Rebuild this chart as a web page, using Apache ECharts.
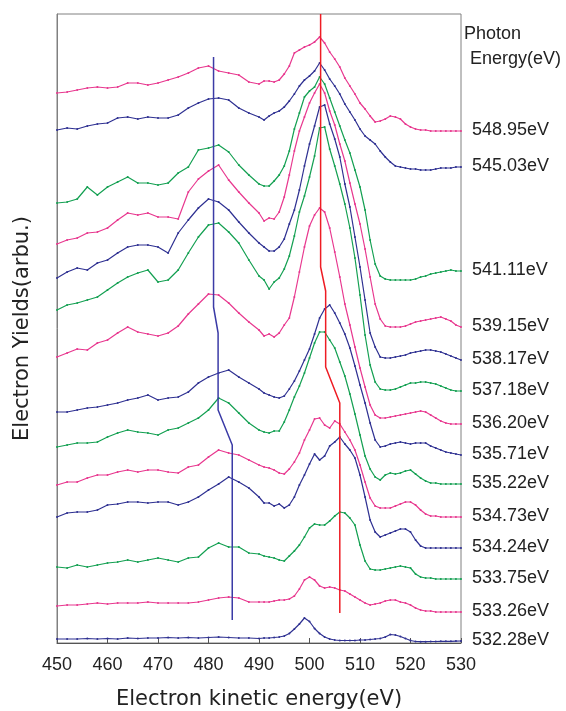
<!DOCTYPE html>
<html>
<head>
<meta charset="utf-8">
<script src="https://cdn.jsdelivr.net/npm/echarts@6/dist/echarts.min.js"></script>
<style>
html,body{margin:0;padding:0;background:#fff}
#chart{width:566px;height:711px}
</style>
</head>
<body>
<div id="chart"></div>
<script>
// kinetic energy grid (eV): 2 eV steps below 490, 1 eV steps above
var energy = [450,452,454,456,458,460,462,464,466,468,470,472,474,476,478,480,482,484,486,488,
    490,491,492,493,494,495,496,497,498,499,500,501,502,503,504,505,506,507,508,509,510,
    511,512,513,514,515,516,517,518,519,520,521,522,523,524,525,526,527,528,529,530];

var photon = ['548.95eV','545.03eV','541.11eV','539.15eV','538.17eV','537.18eV','536.20eV',
    '535.71eV','535.22eV','534.73eV','534.24eV','533.75eV','533.26eV','532.28eV'];

// electron yields, already offset for stacking (arb. u.)
var y54895 = [550,551,553,555,556,555,556,560,560,558,560,563,566,570,575,577,572,570,568,561,
    559,562,562,561,563,569,577,590,593,596,598,601,606,600,591,584,576,565,557,549,540,
    534,527,521,522,524,527,526,524,519,516,514,513,513,512,512,512,512,512,512,512];
var y54503 = [513,515,514,517,519,520,525,526,524,526,525,525,528,535,540,544,545,543,535,530,
    526,523,527,530,532,536,542,549,557,563,567,572,580,573,564,557,549,539,531,523,514,
    507,503,499,492,486,481,477,476,475,474,474,473,473,473,474,475,475,475,476,476];
var y54111 = [440,441,444,456,448,456,461,466,460,460,458,460,470,476,493,495,498,491,478,468,
    459,457,457,462,468,477,492,514,530,546,552,556,566,559,545,531,517,503,490,473,456,
    433,403,379,367,364,363,363,363,363,363,364,366,367,369,370,371,372,373,372,372];
var y53915 = [399,403,405,410,411,415,423,430,428,430,426,426,424,451,464,472,478,463,451,440,
    430,422,425,424,431,446,468,492,512,526,540,550,559,550,532,518,499,482,460,439,419,
    394,366,339,324,317,316,316,316,317,319,321,322,323,324,325,326,324,322,318,316];
var y53817 = [365,371,375,373,380,383,390,396,398,398,396,390,410,423,435,444,441,433,421,410,
    400,396,392,392,396,404,419,433,453,477,499,517,536,538,519,504,486,459,436,406,376,
    343,310,296,286,285,285,286,287,288,290,291,292,293,293,292,291,289,287,285,283];
var y53718 = [333,338,340,343,346,353,360,366,370,373,361,363,373,390,406,418,420,411,400,383,
    367,363,354,361,365,374,387,407,431,447,466,487,515,516,494,477,459,439,415,385,348,
    308,278,261,254,253,253,254,256,258,260,260,261,261,260,259,257,255,253,252,252];
var y53620 = [286,290,294,293,300,303,310,316,311,309,307,310,317,329,339,349,348,340,330,321,
    313,307,309,306,310,318,325,346,371,396,417,428,435,431,415,391,366,339,318,296,275,
    256,238,228,225,225,226,227,228,229,230,231,232,231,228,225,222,220,219,219,219];
var y53571 = [231,231,233,235,236,238,240,243,245,248,243,245,246,251,260,266,270,273,266,260,
    254,250,248,246,245,247,254,262,272,283,294,309,325,334,338,330,320,309,295,277,258,
    240,220,203,196,197,199,200,201,200,199,200,200,200,197,195,193,191,190,189,188];
var y53522 = [196,198,200,200,201,206,210,213,211,210,208,213,215,220,225,233,245,240,230,220,
    213,211,210,212,212,221,233,246,257,270,285,300,311,311,303,295,281,267,249,229,208,
    187,174,166,163,168,170,169,170,172,173,169,165,162,160,160,159,159,159,159,159];
var y53473 = [158,161,161,165,168,168,171,173,171,173,173,171,170,176,178,186,193,190,188,183,
    178,176,175,173,170,169,174,181,190,203,213,224,225,218,215,222,219,211,203,193,178,
    161,145,137,135,135,135,137,139,141,141,138,133,129,127,127,126,126,126,126,126];
var y53424 = [126,130,131,131,133,138,139,141,141,140,141,141,138,141,146,153,159,166,161,155,
    146,140,140,137,139,135,138,146,158,168,179,189,183,187,197,201,206,199,193,185,168,
    146,123,111,106,108,110,112,114,114,111,103,97,95,95,95,95,95,95,95,95];
var y53375 = [76,75,78,76,78,80,81,83,81,83,85,83,81,85,86,95,100,96,96,90,
    89,87,86,85,83,82,87,92,98,106,115,119,118,118,122,127,131,130,125,118,98,
    82,74,73,73,74,75,76,77,76,75,69,66,65,65,64,64,64,64,64,64];
var y53326 = [37,38,38,39,40,39,40,40,40,41,40,40,40,40,41,43,45,46,45,41,
    41,41,41,42,43,43,44,47,54,63,66,63,57,55,56,55,53,52,49,46,43,
    40,38,39,40,42,43,43,41,40,38,35,33,32,32,31,31,31,31,31,31];
var y53228 = [4,4,4,4.5,4,4.5,4,5,4.5,5,5,5.5,5,5.5,5,5.5,6,5.5,5,5,
    4.5,5,5,5.5,6,7,9.5,14,19,25,21.5,14.5,9.5,6,4,3,2.5,2.5,2.5,2.5,3,
    3,3.5,4,4.5,6,8.5,8,6.5,4.5,2.5,1.5,1.3,1.3,1.5,1.5,1.7,1.7,1.7,1.9,2];

// peak-shift guide lines [kinetic energy, yield]
var guideLow = [[481.0,586],[481.0,336],[481.9,310],[481.9,233],[484.7,198],[484.7,23]];
var guideHigh = [[502.2,629],[502.2,376],[503.2,352],[503.2,276],[506.0,240],[506.0,30]];

var spectra = [y54895,y54503,y54111,y53915,y53817,y53718,y53620,y53571,y53522,y53473,y53424,y53375,y53326,y53228];
var colors = ['#E8388F','#2F3192','#14A052'];
var font = 'Liberation Sans';

var series = spectra.map(function (vals, i) {
    var c = colors[i % 3];
    return {
        name: photon[i],
        type: 'line',
        data: vals.map(function (v, k) { return [energy[k], v]; }),
        symbol: 'circle',
        symbolSize: 2,
        lineStyle: { width: 1.2, color: c },
        itemStyle: { color: c },
        endLabel: {
            show: true,
            formatter: '{a}',
            distance: 11,
            offset: [0, -1],
            fontSize: 18,
            color: '#222',
            fontFamily: font
        },
        silent: true
    };
});

series.push({
    type: 'line', data: guideLow, symbol: 'none', silent: true,
    lineStyle: { width: 1.5, color: '#3B3BA6' }, z: 5
});
series.push({
    type: 'line', data: guideHigh, symbol: 'none', silent: true,
    lineStyle: { width: 1.5, color: '#EE1C24' }, z: 5
});

var option = {
    animation: false,
    grid: {
        left: 57, right: 105, top: 14, bottom: 68,
        outerBoundsMode: 'none',
        show: true, borderColor: '#808080', borderWidth: 1
    },
    xAxis: {
        type: 'value', min: 450, max: 530, interval: 10,
        name: 'Electron kinetic energy(eV)',
        nameLocation: 'middle', nameGap: 46,
        nameTextStyle: { fontSize: 21, color: '#222', fontFamily: 'DejaVu Sans' },
        axisLine: { lineStyle: { color: '#555' } },
        axisTick: { inside: true, length: 5, lineStyle: { color: '#555' } },
        axisLabel: { fontSize: 18, color: '#222', margin: 13, fontFamily: font },
        splitLine: { show: false }
    },
    yAxis: {
        type: 'value', min: 0, max: 629,
        name: 'Electron Yields(arbu.)',
        nameLocation: 'middle', nameGap: 24,
        nameTextStyle: { fontSize: 21, color: '#222', fontFamily: 'DejaVu Sans' },
        axisLine: { show: true, lineStyle: { color: '#808080' } },
        axisTick: { show: false },
        axisLabel: { show: false },
        splitLine: { show: false }
    },
    graphic: [
        { type: 'text', left: 464, top: 25, style: { text: 'Photon', font: '18px "Liberation Sans"', fill: '#222' } },
        { type: 'text', left: 470, top: 50, style: { text: 'Energy(eV)', font: '18px "Liberation Sans"', fill: '#222' } }
    ],
    series: series
};

var myChart = echarts.init(document.getElementById('chart'));
myChart.setOption(option);
</script>
</body>
</html>
